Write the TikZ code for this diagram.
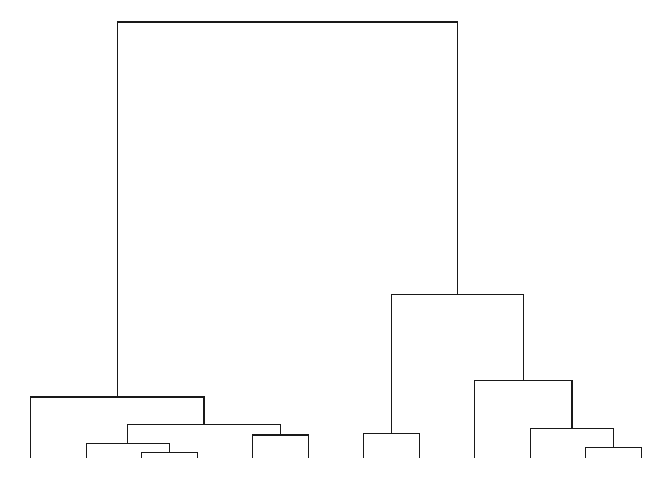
\documentclass[tikz,border=0pt]{standalone}
\usepackage{tikz}
\usetikzlibrary{positioning}

\begin{document}
\begin{tikzpicture}[
  x=1pt, y=-1pt,
  branch/.style={draw=black!90, line width=1.3pt, line cap=rect}
]
\useasboundingbox (0,0) rectangle (672,480);
% leaves
\foreach \i in {1,...,12}
  \coordinate (l\i) at ({30.7+55.5*(\i-1)}, 457.5);
% merges, left cluster
\coordinate (m34) at (169.5, 452.7);
\coordinate (m234) at (127.8, 443.7);
\coordinate (m56) at (280.3, 435);
\coordinate (m2to6) at (204, 424.7);
\coordinate (left) at (117.4, 397);
% merges, right cluster
\coordinate (m78) at (391.3, 433.7);
\coordinate (m1112) at (613.5, 447.3);
\coordinate (m10to12) at (571.9, 428.3);
\coordinate (m9to12) at (523.3, 380.7);
\coordinate (right) at (457.3, 294.3);
\coordinate (root) at (287.3, 22);

\draw[branch] (l3) |- (m34) -| (l4);
\draw[branch] (l2) |- (m234) -| (m34);
\draw[branch] (l5) |- (m56) -| (l6);
\draw[branch] (m234) |- (m2to6) -| (m56);
\draw[branch] (l1) |- (left) -| (m2to6);
\draw[branch] (l7) |- (m78) -| (l8);
\draw[branch] (l11) |- (m1112) -| (l12);
\draw[branch] (l10) |- (m10to12) -| (m1112);
\draw[branch] (l9) |- (m9to12) -| (m10to12);
\draw[branch] (m78) |- (right) -| (m9to12);
\draw[branch] (left) |- (root) -| (right);
\end{tikzpicture}
\end{document}
